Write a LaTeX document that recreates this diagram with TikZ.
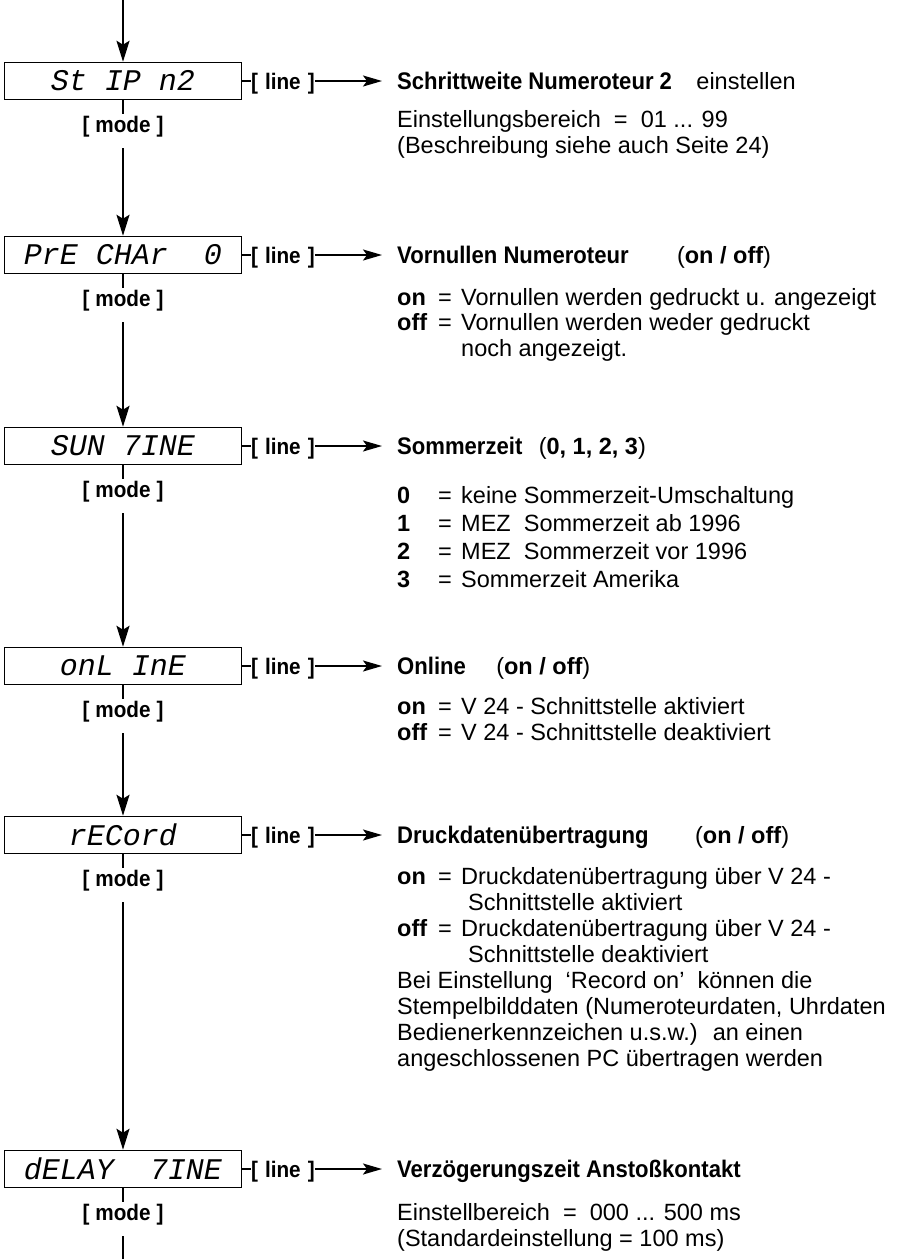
\documentclass[tikz,border=0pt]{standalone}
\usepackage{fontspec}
\setmainfont{Liberation Sans}
\newfontfamily\lcdfont{Liberation Mono}
\newfontfamily\headfont[FakeStretch=0.92]{Liberation Sans}
\usetikzlibrary{arrows.meta}
\newcommand\kvline[2]{\makebox[41pt][l]{\textbf{#1}}\makebox[23pt][l]{=}#2}
\begin{document}
\begin{tikzpicture}[x=1pt,y=-1pt,
  lcdbox/.style={draw, line width=1.5pt, minimum width=237pt, minimum height=37pt, inner sep=0pt,
    font={\lcdfont\itshape\fontsize{30}{30}\selectfont}},
  modelbl/.style={font={\headfont\bfseries\fontsize{22.5}{22.5}\selectfont\spaceskip=6pt\relax},
    inner sep=0pt, text height=18pt, text depth=16pt, anchor=base},
  linelbl/.style={font={\headfont\bfseries\fontsize{22.5}{22.5}\selectfont\spaceskip=7pt\relax},
    inner sep=0pt, text height=16pt, text depth=0pt, anchor=base west},
  ttl/.style={font={\headfont\bfseries\fontsize{24}{24}\selectfont}, inner sep=0pt, anchor=base west},
  txt/.style={font={\fontsize{23.5}{23.5}\selectfont}, inner sep=0pt, anchor=base west},
  flow/.style={line width=2pt},
  flowarrow/.style={line width=2pt, -{Stealth[length=21pt,width=13pt,inset=4pt]}},
  hflow/.style={line width=1.8pt, shorten >=15pt, -{Stealth[length=19pt,width=11pt,inset=4pt]}},
  tickline/.style={line width=1.5pt}
]
\useasboundingbox (0,0) rectangle (912,1259);
\coordinate (top) at (123,0);
\coordinate (bot) at (123,1259);

% ---------- row 1
\node[lcdbox] (b1) at (123,81) {St IP n2};
\node[modelbl] (m1) at (123,132) {[ mode ]};
\node[linelbl] (l1) at (251,89) {[ line ]};
\node[ttl] (t1) at (397,89.5) {Schrittweite Numeroteur 2};
\node[txt] (t1x) at ([xshift=24pt]t1.base east) {einstellen};
\node[txt] (d1a) at (397,127.5) {Einstellungsbereich~~=~~01 ... 99};
\node[txt] (d1b) at (397,153.5) {(Beschreibung siehe auch Seite 24)};

% ---------- row 2
\node[lcdbox] (b2) at (123,255) {PrE CHAr~~0};
\node[modelbl] (m2) at (123,306) {[ mode ]};
\node[linelbl] (l2) at (251,263) {[ line ]};
\node[ttl] (t2) at (397,263.5) {Vornullen Numeroteur};
\node[txt] (t2x) at ([xshift=48pt]t2.base east) {(\textbf{on / off})};
\node[txt] (d2a) at (397,305.5) {\kvline{on}{Vornullen werden gedruckt u. angezeigt}};
\node[txt] (d2b) at (397,330.5) {\kvline{off}{Vornullen werden weder gedruckt}};
\node[txt] (d2c) at (461,356.5) {noch angezeigt.};

% ---------- row 3
\node[lcdbox] (b3) at (123,446) {SUN 7INE};
\node[modelbl] (m3) at (123,497) {[ mode ]};
\node[linelbl] (l3) at (251,454) {[ line ]};
\node[ttl] (t3) at (397,454.5) {Sommerzeit};
\node[txt] (t3x) at ([xshift=16pt]t3.base east) {(\textbf{0, 1, 2, 3})};
\node[txt] (d3a) at (397,503.5) {\kvline{0}{keine Sommerzeit-Umschaltung}};
\node[txt] (d3b) at (397,531.5) {\kvline{1}{MEZ~ Sommerzeit ab 1996}};
\node[txt] (d3c) at (397,559.5) {\kvline{2}{MEZ~ Sommerzeit vor 1996}};
\node[txt] (d3d) at (397,587.5) {\kvline{3}{Sommerzeit Amerika}};

% ---------- row 4
\node[lcdbox] (b4) at (123,666) {onL InE};
\node[modelbl] (m4) at (123,717) {[ mode ]};
\node[linelbl] (l4) at (251,674) {[ line ]};
\node[ttl] (t4) at (397,674.5) {Online};
\node[txt] (t4x) at ([xshift=30pt]t4.base east) {(\textbf{on / off})};
\node[txt] (d4a) at (397,714.5) {\kvline{on}{V 24 - Schnittstelle aktiviert}};
\node[txt] (d4b) at (397,740.5) {\kvline{off}{V 24 - Schnittstelle deaktiviert}};

% ---------- row 5
\node[lcdbox] (b5) at (123,835) {rECord};
\node[modelbl] (m5) at (123,886) {[ mode ]};
\node[linelbl] (l5) at (251,843) {[ line ]};
\node[ttl] (t5) at (397,843.5) {Druckdatenübertragung};
\node[txt] (t5x) at ([xshift=46pt]t5.base east) {(\textbf{on / off})};
\node[txt] (d5a) at (397,884.5) {\kvline{on}{Druckdatenübertragung über V 24 -}};
\node[txt] (d5b) at (468,910.5) {Schnittstelle aktiviert};
\node[txt] (d5c) at (397,936.5) {\kvline{off}{Druckdatenübertragung über V 24 -}};
\node[txt] (d5d) at (468,962.5) {Schnittstelle deaktiviert};
\node[txt] (d5e) at (397,988.5) {Bei Einstellung~ ‘Record on’~ können die};
\node[txt] (d5f) at (397,1014.5) {Stempelbilddaten (Numeroteurdaten, Uhrdaten};
\node[txt] (d5g) at (397,1040.5) {Bedienerkennzeichen u.s.w.)~ an einen};
\node[txt] (d5h) at (397,1066.5) {angeschlossenen PC übertragen werden};

% ---------- row 6
\node[lcdbox] (b6) at (123,1169) {dELAY~~7INE};
\node[modelbl] (m6) at (123,1220) {[ mode ]};
\node[linelbl] (l6) at (251,1177) {[ line ]};
\node[ttl] (t6) at (397,1177.5) {Verzögerungszeit Anstoßkontakt};
\node[txt] (d6a) at (397,1220.5) {Einstellbereich~~=~~000 ... 500 ms};
\node[txt] (d6b) at (397,1246.5) {(Standardeinstellung = 100 ms)};

% ---------- connectors
\draw[flowarrow] (top) -- (b1.north);
\foreach \i/\j in {1/2,2/3,3/4,4/5,5/6}{
  \draw[flow] (b\i.south) -- (m\i.north);
  \draw[flowarrow] (m\i.south) -- (b\j.north);
}
\draw[flow] (b6.south) -- (m6.north);
\draw[flow] (m6.south) -- (bot);
\foreach \i in {1,...,6}{
  \draw[tickline] (b\i.east) -- (l\i.west);
  \draw[hflow] (l\i.east) -- (l\i.east -| t\i.west);
}
\end{tikzpicture}
\end{document}
